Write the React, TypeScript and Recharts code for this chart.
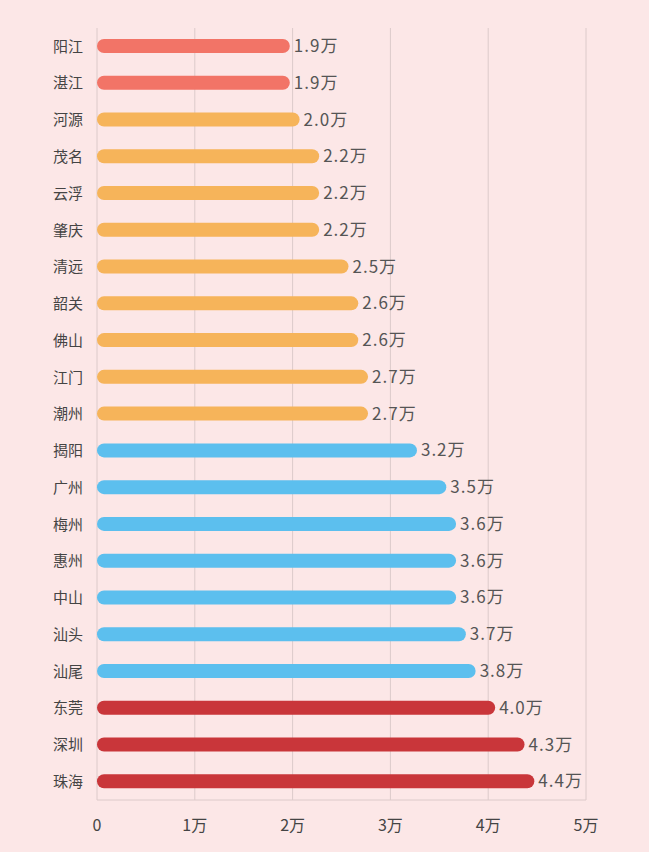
import { BarChart, Bar, XAxis, YAxis, CartesianGrid, Cell, LabelList } from "recharts";

const cities = ["阳江", "湛江", "河源", "茂名", "云浮", "肇庆", "清远", "韶关", "佛山", "江门", "潮州", "揭阳", "广州", "梅州", "惠州", "中山", "汕头", "汕尾", "东莞", "深圳", "珠海"];
const values = [1.9, 1.9, 2.0, 2.2, 2.2, 2.2, 2.5, 2.6, 2.6, 2.7, 2.7, 3.2, 3.5, 3.6, 3.6, 3.6, 3.7, 3.8, 4.0, 4.3, 4.4];
const groups = ["low", "low", "mid", "mid", "mid", "mid", "mid", "mid", "mid", "mid", "mid", "high", "high", "high", "high", "high", "high", "high", "top", "top", "top"];
const xTicks = [0, 1, 2, 3, 4, 5];

const groupColor: Record<string, string> = {
  low: "#f27467",
  mid: "#f6b45a",
  high: "#5cbfee",
  top: "#c9363a",
};

const data = cities.map((city, i) => ({ city, value: values[i], group: groups[i] }));

const font = '"Noto Sans CJK SC", "Noto Sans", sans-serif';

// pill bar whose round cap sticks out past the value, like the original
const PillBar = (props: any) => {
  const { x, y, width, height, fill } = props;
  if (!width) return null;
  const r = height / 2;
  return <rect x={x} y={y} width={width + r} height={height} rx={r} ry={r} fill={fill} />;
};

const App = () => {
  return (
    <div style={{ position: "absolute", left: 0, top: 0, width: 649, height: 852, background: "#fce7e7", fontFamily: font }}>
      <BarChart
        width={649}
        height={852}
        data={data}
        layout="vertical"
        margin={{ top: 28, right: 63, left: 0, bottom: 22 }}
      >
        <CartesianGrid horizontal={false} stroke="#dccaca" />
        <XAxis
          type="number"
          domain={[0, 5]}
          ticks={xTicks}
          tickFormatter={(v: number) => (v === 0 ? "0" : `${v}万`)}
          axisLine={{ stroke: "#dccaca" }}
          tickLine={false}
          tick={{ fontSize: 16, fill: "#444", fontFamily: font }}
          tickMargin={14}
          height={30}
        />
        <YAxis
          type="category"
          dataKey="city"
          width={97}
          axisLine={false}
          tickLine={false}
          tickSize={0}
          tickMargin={14}
          interval={0}
          tick={{ fontSize: 15, fill: "#444", fontFamily: font }}
        />
        <Bar dataKey="value" barSize={14} shape={PillBar} isAnimationActive={false}>
          {data.map((d, i) => (
            <Cell key={i} fill={groupColor[d.group]} />
          ))}
          <LabelList
            dataKey="value"
            position="right"
            offset={11}
            formatter={(v: number) => `${v.toFixed(1)}万`}
            style={{ fontSize: 17, fill: "#555", fontFamily: font, letterSpacing: 1 }}
          />
        </Bar>
      </BarChart>
    </div>
  );
};

export default App;
